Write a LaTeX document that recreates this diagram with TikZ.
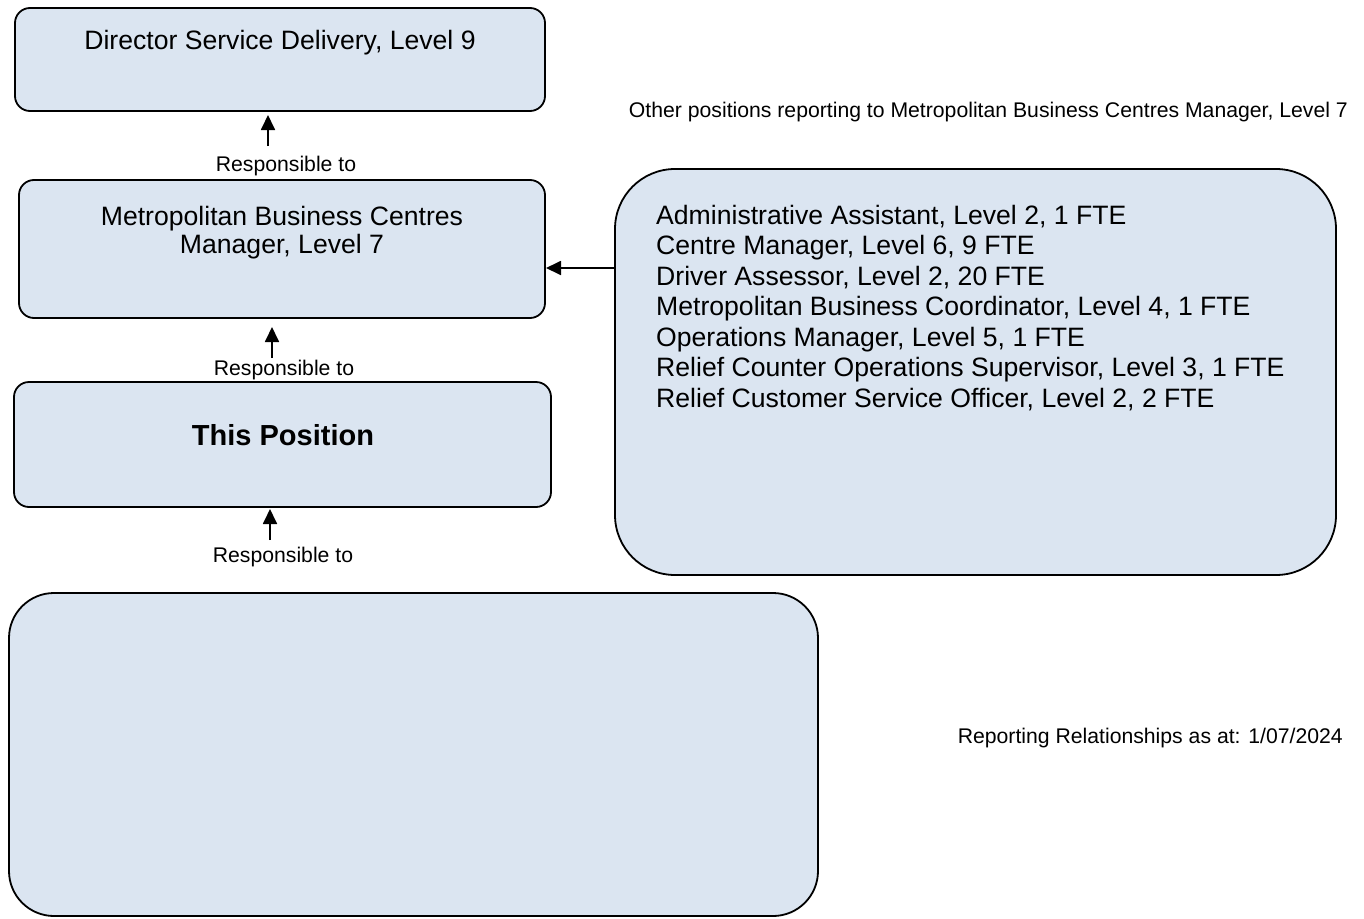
\documentclass[tikz,border=0pt]{standalone}
\usepackage{fontspec}
\setmainfont{Liberation Sans}
\usetikzlibrary{arrows.meta}
\definecolor{boxfill}{HTML}{DBE5F1}
\tikzset{
  posbox/.style={draw=black, line width=1.8pt, fill=boxfill, rounded corners=#1},
  arr/.style={line width=1.8pt, -{Triangle[length=15pt,width=14pt]}},
  lbl/.style={font=\fontsize{21.2}{24}\selectfont, inner sep=0pt},
  big/.style={font=\fontsize{26.6}{28}\selectfont, inner sep=0pt},
}
\begin{document}
\begin{tikzpicture}[x=1pt,y=-1pt]
\useasboundingbox (0,0) rectangle (1364,918);
% boxes
\draw[posbox=15pt] (15,8) rectangle (545,111);
\draw[posbox=15pt] (19,180) rectangle (545,318);
\draw[posbox=15pt] (14,382) rectangle (551,507);
\draw[posbox=45pt] (9,593) rectangle (818,916);
\draw[posbox=60pt] (615,169) rectangle (1336,575);
% named anchors for the boxes
\coordinate (dir) at (280,111);
\coordinate (mgr) at (280,318);
\coordinate (mgrE) at (546,268);
\coordinate (pos) at (283,507);
\coordinate (oth) at (615,268);
% texts
\node[big] (tdir) at (280,43) {Director Service Delivery, Level 9};
\node[big, align=center] (tmgr) at (282,233) {Metropolitan Business Centres\\Manager, Level 7};
\node[inner sep=0pt, font=\fontsize{29}{32}\selectfont\bfseries] (tpos) at (283,435) {This Position};
\node[big, align=left, anchor=north west, font=\fontsize{26.6}{30.5}\selectfont] (tlist) at (656,205) {Administrative Assistant, Level 2, 1 FTE\\
Centre Manager, Level 6, 9 FTE\\
Driver Assessor, Level 2, 20 FTE\\
Metropolitan Business Coordinator, Level 4, 1 FTE\\
Operations Manager, Level 5, 1 FTE\\
Relief Counter Operations Supervisor, Level 3, 1 FTE\\
Relief Customer Service Officer, Level 2, 2 FTE};
\node[lbl, anchor=east] (tother) at (1348,112) {Other positions reporting to Metropolitan Business Centres Manager, Level 7};
\node[lbl, anchor=east] (tdate) at (1343,738) {Reporting Relationships as at: 1/07/2024};
% arrows
\coordinate (a1) at (268,146);
\coordinate (a2) at (272,358);
\coordinate (a3) at (270,540);
\draw[arr] (a1) -- ([yshift=-4pt]a1 |- dir);
\draw[arr] (a2) -- ([yshift=-9pt]a2 |- mgr);
\draw[arr] (a3) -- ([yshift=-2pt]a3 |- pos);
\draw[arr] (oth) -- (mgrE);
\node[lbl] (l1) at (286,166) {Responsible to};
\node[lbl] (l2) at (284,370) {Responsible to};
\node[lbl] (l3) at (283,557) {Responsible to};
\end{tikzpicture}
\end{document}
